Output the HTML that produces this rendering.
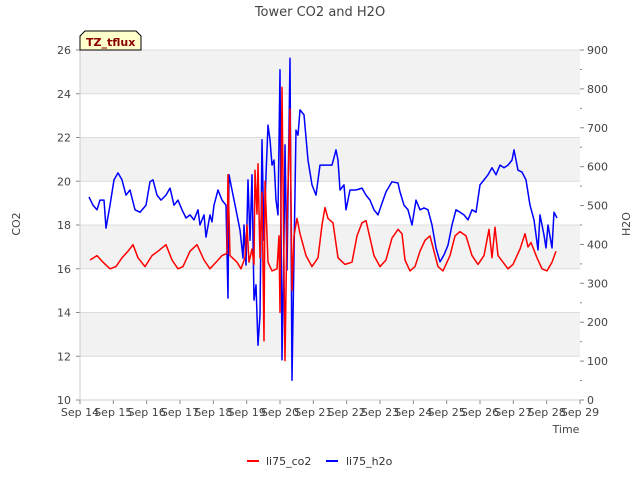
<!DOCTYPE html>
<html><head><meta charset="utf-8"><style>
body{margin:0;background:#fff;font-family:"Liberation Sans","DejaVu Sans",sans-serif}
</style></head><body>
<svg id="chart" width="640" height="480" xmlns="http://www.w3.org/2000/svg" font-family="DejaVu Sans, Liberation Sans, sans-serif">
<text x="320" y="16" text-anchor="middle" font-size="13" fill="#444">Tower CO2 and H2O</text>
<g id="bands"></g><g id="axes"></g><g id="series"></g>
<g>
<path d="M80,50 L80,36 L85,31 L136,31 L141,36 L141,50 Z" fill="#ffffcc" stroke="#000" stroke-width="1"/>
<text x="86" y="46" font-size="11" font-weight="bold" fill="#8b0000">TZ_tflux</text></g>
<text x="566" y="433" text-anchor="middle" font-size="11" fill="#444">Time</text>
<text x="20" y="224" text-anchor="middle" font-size="11" fill="#444" transform="rotate(-90 20 224)">CO2</text>
<text x="630" y="224" text-anchor="middle" font-size="11" fill="#444" transform="rotate(-90 630 224)">H2O</text>
<g>
<g><line x1="247" y1="461" x2="259" y2="461" stroke="#f00" stroke-width="2"/><text x="266" y="465" font-size="11" fill="#333">li75_co2</text></g>
<g><line x1="326" y1="461" x2="338" y2="461" stroke="#00f" stroke-width="2"/><text x="346" y="465" font-size="11" fill="#333">li75_h2o</text></g>
</g>
</svg>
<script>
const xTickLabels=["Sep 14","Sep 15","Sep 16","Sep 17","Sep 18","Sep 19","Sep 20","Sep 21","Sep 22","Sep 23","Sep 24","Sep 25","Sep 26","Sep 27","Sep 28","Sep 29"];
const leftTicks=[10,12,14,16,18,20,22,24,26];
const rightTicks=[0,100,200,300,400,500,600,700,800,900];
const co2Days=[.30,.51,.69,.90,1.08,1.26,1.44,1.59,1.74,1.95,2.16,2.34,2.58,2.76,2.94,3.09,3.30,3.51,3.72,3.90,4.08,4.26,4.41,4.44,4.50,4.71,4.83,4.95,5.01,5.07,5.16,5.22,5.25,5.31,5.34,5.40,5.46,5.52,5.55,5.64,5.76,5.91,5.97,6.00,6.06,6.15,6.21,6.30,6.36,6.42,6.51,6.60,6.78,6.96,7.14,7.26,7.35,7.44,7.59,7.74,7.95,8.16,8.31,8.46,8.58,8.70,8.82,9.00,9.18,9.36,9.54,9.66,9.75,9.90,10.05,10.20,10.35,10.50,10.62,10.74,10.89,11.10,11.25,11.40,11.58,11.76,11.94,12.12,12.27,12.36,12.45,12.54,12.69,12.84,12.99,13.20,13.35,13.44,13.53,13.71,13.86,14.01,14.16,14.28];
const co2Values=[16.4,16.6,16.3,16.0,16.1,16.5,16.8,17.1,16.5,16.1,16.6,16.8,17.1,16.4,16.0,16.1,16.8,17.1,16.4,16.0,16.3,16.6,16.7,20.3,16.6,16.3,16.0,16.5,18.0,16.3,16.9,16.2,20.5,18.5,20.8,16.5,19.5,12.7,20.0,16.3,15.9,16.0,17.5,14.0,24.3,11.8,18.0,23.3,15.0,17.5,18.3,17.6,16.6,16.1,16.5,18.0,18.8,18.3,18.1,16.5,16.2,16.3,17.5,18.1,18.2,17.4,16.6,16.1,16.4,17.4,17.8,17.6,16.4,15.9,16.1,16.8,17.3,17.5,16.8,16.1,15.9,16.6,17.5,17.7,17.5,16.6,16.2,16.6,17.8,16.5,17.9,16.6,16.3,16.0,16.2,16.9,17.6,17.0,17.2,16.5,16.0,15.9,16.3,16.8];
const h2oDays=[.27,.39,.51,.60,.72,.78,.90,1.02,1.14,1.26,1.38,1.50,1.65,1.80,1.98,2.10,2.19,2.31,2.43,2.58,2.70,2.82,2.94,3.06,3.18,3.30,3.42,3.54,3.60,3.72,3.78,3.90,3.96,4.02,4.14,4.26,4.38,4.44,4.47,4.56,4.68,4.80,4.89,4.92,4.98,5.04,5.10,5.16,5.22,5.28,5.34,5.40,5.46,5.52,5.58,5.64,5.70,5.76,5.82,5.88,5.94,6.00,6.06,6.12,6.15,6.21,6.30,6.36,6.42,6.48,6.54,6.60,6.72,6.84,6.96,7.08,7.20,7.38,7.56,7.68,7.74,7.80,7.92,7.98,8.10,8.28,8.46,8.58,8.70,8.82,8.94,9.06,9.18,9.36,9.54,9.60,9.72,9.84,9.96,10.08,10.20,10.32,10.44,10.56,10.68,10.80,10.92,11.04,11.16,11.28,11.40,11.52,11.64,11.76,11.88,12.00,12.12,12.24,12.36,12.48,12.60,12.72,12.84,12.96,13.02,13.14,13.26,13.38,13.50,13.62,13.74,13.80,13.92,13.98,14.04,14.16,14.22,14.31];
const h2oValues=[522,501,489,514,514,442,501,566,584,566,527,540,489,483,501,561,566,527,514,527,545,501,514,489,468,476,463,489,450,476,419,476,458,501,540,514,501,262,579,540,489,437,365,450,347,566,411,579,257,296,141,219,669,411,579,707,669,604,617,514,476,849,103,411,656,334,879,51,373,694,681,746,733,617,553,527,604,604,604,643,617,540,553,489,540,540,545,527,514,489,476,506,535,561,558,535,501,489,450,514,489,494,489,450,391,355,373,398,450,489,483,476,463,489,483,553,566,579,597,579,604,597,604,617,643,591,586,566,501,463,386,476,424,391,450,391,483,468];

const NS="http://www.w3.org/2000/svg";
const L=80,R=580,T=50,B=400;
const xS=d=>L+d*(R-L)/15;
const yL=v=>B-(v-10)*(B-T)/16;
const yR=v=>B-v*(B-T)/900;
function mk(tag,attrs,parent){const e=document.createElementNS(NS,tag);for(const k in attrs)e.setAttribute(k,attrs[k]);parent.appendChild(e);return e;}
const bands=document.getElementById('bands'),axes=document.getElementById('axes'),series=document.getElementById('series');
for(let i=0;i<leftTicks.length-1;i++){
  const lo=leftTicks[i],hi=leftTicks[i+1];
  if(i%2===1){const r=mk('rect',{x:L,y:yL(hi),width:R-L,height:yL(lo)-yL(hi),fill:'#f2f2f2'},bands);
  
  }
}
leftTicks.forEach(v=>{
  const g=mk('line',{x1:L,x2:R,y1:yL(v),y2:yL(v),stroke:'#dcdcdc','stroke-width':1},bands);
  
  
  mk('line',{x1:L-4,x2:L,y1:yL(v),y2:yL(v),stroke:'#888'},axes);
  const t=mk('text',{x:L-9,y:yL(v)+4,'text-anchor':'end','font-size':11,fill:'#444'},axes);
  t.textContent=v;
  
  
});
rightTicks.forEach((v,i)=>{
  mk('line',{x1:R,x2:R+4,y1:yR(v),y2:yR(v),stroke:'#888'},axes);
  if(i<rightTicks.length-1)mk('line',{x1:R,x2:R+2,y1:yR(v+50),y2:yR(v+50),stroke:'#888'},axes);
  const t=mk('text',{x:R+7,y:yR(v)+4,'font-size':11,fill:'#444'},axes);
  t.textContent=v;
  
  
});
xTickLabels.forEach((s,i)=>{
  mk('line',{x1:xS(i),x2:xS(i),y1:B,y2:B+4,stroke:'#888'},axes);
  const t=mk('text',{x:xS(i),y:B+16,'text-anchor':'middle','font-size':11,fill:'#444'},axes);
  t.textContent=s;
  
  
});
mk('line',{x1:L,x2:L,y1:T,y2:B,stroke:'#ccc'},axes);
mk('line',{x1:L,x2:R,y1:B,y2:B,stroke:'#ccc'},axes);
const p2=mk('path',{d:h2oDays.map((d,i)=>(i?'L':'M')+xS(d).toFixed(1)+','+yR(h2oValues[i]).toFixed(1)).join(''),fill:'none',stroke:'#0000ff','stroke-width':1.5,'stroke-linejoin':'round'},series);


const p1=mk('path',{d:co2Days.map((d,i)=>(i?'L':'M')+xS(d).toFixed(1)+','+yL(co2Values[i]).toFixed(1)).join(''),fill:'none',stroke:'#ff0000','stroke-width':1.5,'stroke-linejoin':'round'},series);


</script>
</body></html>
